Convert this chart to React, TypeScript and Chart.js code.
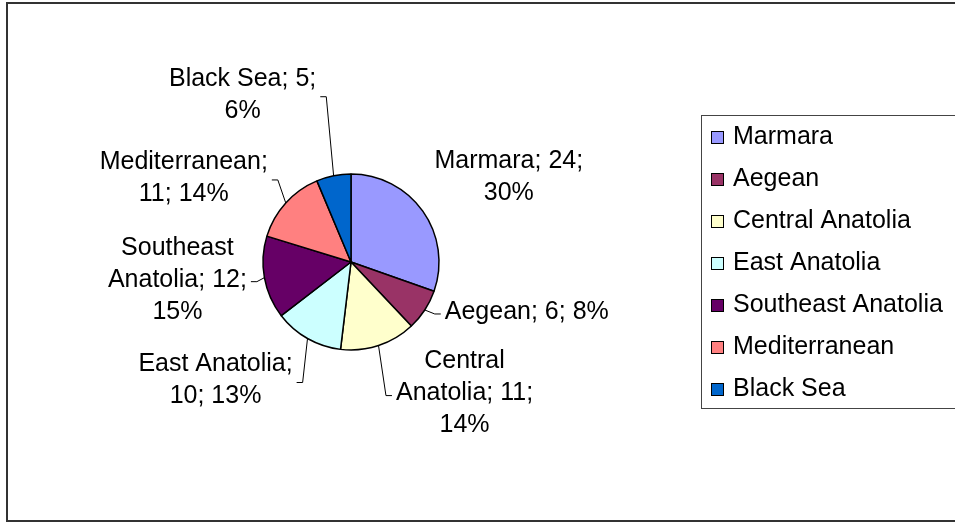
import React, { useEffect, useRef } from "react";
import { Chart, registerables } from "chart.js";

Chart.register(...registerables);

const categories = [
  "Marmara",
  "Aegean",
  "Central Anatolia",
  "East Anatolia",
  "Southeast Anatolia",
  "Mediterranean",
  "Black Sea",
];
const values = [24, 6, 11, 10, 12, 11, 5];
const colors = ["#9999FF", "#993366", "#FFFFCC", "#CCFFFF", "#660066", "#FF8080", "#0066CC"];

// label block center offsets from each slice's outer mid point (layout only)
const labelOffsets: [number, number][] = [
  [86, -34],
  [102, 2],
  [86, 48],
  [-92, 42],
  [-87, 2],
  [-102, -25],
  [-91, -81],
];
const showLeader = [false, true, true, true, true, true, true];

const FONT_SIZE = 25;
const FONT = `${FONT_SIZE}px "Liberation Sans", Arial, sans-serif`;
const LINE_H = 32;

function wrap(ctx: CanvasRenderingContext2D, text: string, maxW: number): string[] {
  const words = text.split(" ");
  const lines: string[] = [];
  let cur = "";
  for (const w of words) {
    const test = cur ? cur + " " + w : w;
    if (cur && ctx.measureText(test).width > maxW) {
      lines.push(cur);
      cur = w;
    } else cur = test;
  }
  if (cur) lines.push(cur);
  return lines;
}

const framePlugin = {
  id: "frame",
  beforeDraw(chart: any) {
    const ctx = chart.ctx as CanvasRenderingContext2D;
    ctx.save();
    ctx.fillStyle = "#ffffff";
    ctx.fillRect(0, 0, chart.width, chart.height);
    ctx.strokeStyle = "#333333";
    ctx.lineWidth = 2;
    ctx.strokeRect(7, 3, chart.width + 10, 518);
    ctx.restore();
  },
};

const labelPlugin = {
  id: "pieLabels",
  afterDatasetsDraw(chart: any) {
    const ctx = chart.ctx as CanvasRenderingContext2D;
    const meta = chart.getDatasetMeta(0);
    const data: number[] = chart.data.datasets[0].data;
    const total = data.reduce((a, b) => a + b, 0);
    ctx.save();
    ctx.font = FONT;
    ctx.fillStyle = "#000";
    ctx.textAlign = "center";
    ctx.textBaseline = "middle";
    meta.data.forEach((arc: any, i: number) => {
      const p = arc.getProps(["x", "y", "startAngle", "endAngle", "outerRadius"], true);
      const mid = (p.startAngle + p.endAngle) / 2;
      const ax = p.x + Math.cos(mid) * p.outerRadius;
      const ay = p.y + Math.sin(mid) * p.outerRadius;
      const text = `${chart.data.labels[i]}; ${data[i]}; ${Math.round((data[i] / total) * 100)}%`;
      const lines = wrap(ctx, text, FONT_SIZE * 7);
      const maxW = Math.max(...lines.map((l) => ctx.measureText(l).width));
      const cx = ax + labelOffsets[i][0];
      const cy = ay + labelOffsets[i][1];
      const top = cy - ((lines.length - 1) * LINE_H) / 2;
      lines.forEach((l, k) => ctx.fillText(l, cx, top + k * LINE_H));
      if (showLeader[i]) {
        const left = cx < ax;
        const edge = left ? cx + maxW / 2 : cx - maxW / 2;
        const s = left ? 1 : -1;
        ctx.beginPath();
        ctx.strokeStyle = "#000";
        ctx.lineWidth = 1;
        ctx.moveTo(edge + s * 4, cy + 2);
        ctx.lineTo(edge + s * 10, cy + 2);
        ctx.lineTo(ax, ay);
        ctx.stroke();
      }
    });
    ctx.restore();
  },
};

const legendPlugin = {
  id: "boxLegend",
  afterDraw(chart: any) {
    const ctx = chart.ctx as CanvasRenderingContext2D;
    const labels: string[] = chart.data.labels;
    const bg: string[] = chart.data.datasets[0].backgroundColor;
    ctx.save();
    ctx.strokeStyle = "#444";
    ctx.lineWidth = 1;
    ctx.strokeRect(701.5, 115.5, 300, 293);
    ctx.font = FONT;
    ctx.textBaseline = "middle";
    ctx.textAlign = "left";
    labels.forEach((lab, i) => {
      const y = 137 + i * 42;
      ctx.fillStyle = bg[i];
      ctx.fillRect(711, y - 6, 12, 12);
      ctx.strokeStyle = "#000";
      ctx.strokeRect(711.5, y - 5.5, 12, 12);
      ctx.fillStyle = "#000";
      ctx.fillText(lab, 733, y);
    });
    ctx.restore();
  },
};

export default function App() {
  const ref = useRef<HTMLCanvasElement>(null);
  useEffect(() => {
    document.body.style.margin = "0";
    const chart = new Chart(ref.current!, {
      type: "pie",
      data: {
        labels: categories,
        datasets: [
          {
            data: values,
            backgroundColor: colors,
            borderColor: "#000",
            borderWidth: 1.5,
          },
        ],
      },
      options: {
        animation: false,
        responsive: false,
        devicePixelRatio: 1,
        radius: 88,
        layout: { padding: { left: 100, right: 353, top: 80, bottom: 80 } },
        plugins: { legend: { display: false }, tooltip: { enabled: false } },
      } as any,
      plugins: [framePlugin, labelPlugin, legendPlugin],
    });
    return () => chart.destroy();
  }, []);
  return <canvas ref={ref} width={955} height={524} style={{ display: "block" }} />;
}
